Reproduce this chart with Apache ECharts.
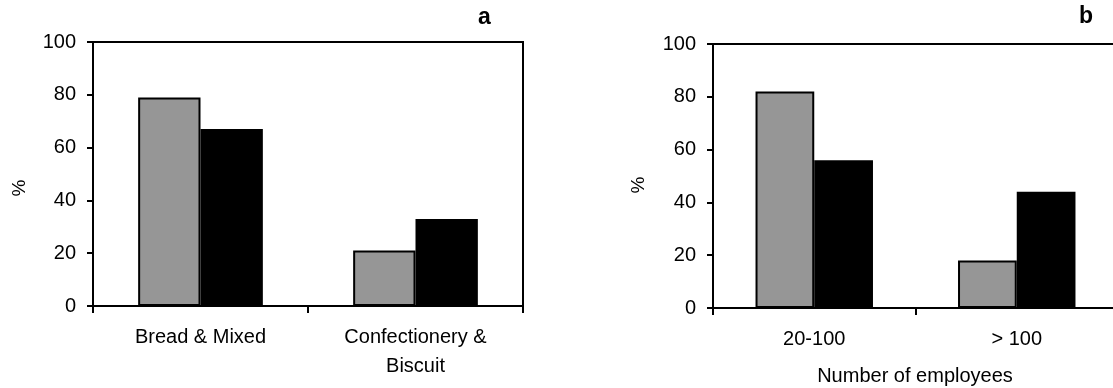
<!DOCTYPE html>
<html>
<head>
<meta charset="utf-8">
<script src="https://cdn.jsdelivr.net/npm/echarts@6/dist/echarts.min.js"></script>
<style>
html,body{margin:0;padding:0;background:#fff;overflow:hidden;width:1113px;height:388px;}
#c{width:1125px;height:388px;}
</style>
</head>
<body>
<div id="c"></div>
<script>
// Panel a
const catsA = ['Bread & Mixed', 'Confectionery &\nBiscuit'];
const grayA = [79, 21];
const blackA = [67, 33];
// Panel b
const catsB = ['20-100', '> 100'];
const grayB = [82, 18];
const blackB = [56, 44];
const yTicks = [0, 20, 40, 60, 80, 100];

const FONT = '"Liberation Sans", Arial, sans-serif';
const GRAY = '#969696';

const chart = echarts.init(document.getElementById('c'), null, {renderer: 'canvas'});

function xAxisDef(idx, cats) {
  return {
    type: 'category', gridIndex: idx, data: cats,
    axisLine: {lineStyle: {color: '#000', width: 2}},
    axisTick: {show: true, alignWithLabel: false, length: 7, lineStyle: {color: '#000', width: 2}},
    axisLabel: {color: '#000', fontFamily: FONT, fontSize: 20, margin: 17, lineHeight: 29, interval: 0}
  };
}
function yAxisDef(idx) {
  return {
    type: 'value', gridIndex: idx, min: yTicks[0], max: yTicks[yTicks.length - 1], interval: 20,
    axisLine: {show: true, lineStyle: {color: '#000', width: 2}},
    axisTick: {show: true, length: 6, lineStyle: {color: '#000', width: 2}},
    axisLabel: {color: '#000', fontFamily: FONT, fontSize: 20, margin: 17},
    splitLine: {show: false}
  };
}
function barSeries(idx, data, color) {
  return {
    type: 'bar', xAxisIndex: idx, yAxisIndex: idx, data: data,
    barWidth: '29%', barGap: '0%',
    itemStyle: {color: color, borderColor: '#000', borderWidth: 2},
    silent: true, animation: false
  };
}

chart.setOption({
  animation: false,
  grid: [
    {left: 93, top: 42, width: 430, bottom: 82, show: true, borderColor: '#000', borderWidth: 2, backgroundColor: 'transparent'},
    {left: 713, top: 44, width: 405, bottom: 80, show: true, borderColor: '#000', borderWidth: 2, backgroundColor: 'transparent'}
  ],
  xAxis: [xAxisDef(0, catsA), xAxisDef(1, catsB)],
  yAxis: [yAxisDef(0), yAxisDef(1)],
  series: [
    barSeries(0, grayA, GRAY), barSeries(0, blackA, '#000'),
    barSeries(1, grayB, GRAY), barSeries(1, blackB, '#000')
  ],
  graphic: [
    {type: 'text', left: 478, top: 6, style: {text: 'a', font: 'bold 23px ' + FONT, fill: '#000'}},
    {type: 'text', left: 1079, top: 5, style: {text: 'b', font: 'bold 23px ' + FONT, fill: '#000'}},
    {type: 'text', x: 20, y: 188, rotation: Math.PI / 2, style: {text: '%', font: '19px ' + FONT, fill: '#000', align: 'center', verticalAlign: 'middle'}},
    {type: 'text', x: 639, y: 185, rotation: Math.PI / 2, style: {text: '%', font: '19px ' + FONT, fill: '#000', align: 'center', verticalAlign: 'middle'}},
    {type: 'text', x: 915, y: 376, style: {text: 'Number of employees', font: '20px ' + FONT, fill: '#000', align: 'center', verticalAlign: 'middle'}}
  ]
});
</script>
</body>
</html>
